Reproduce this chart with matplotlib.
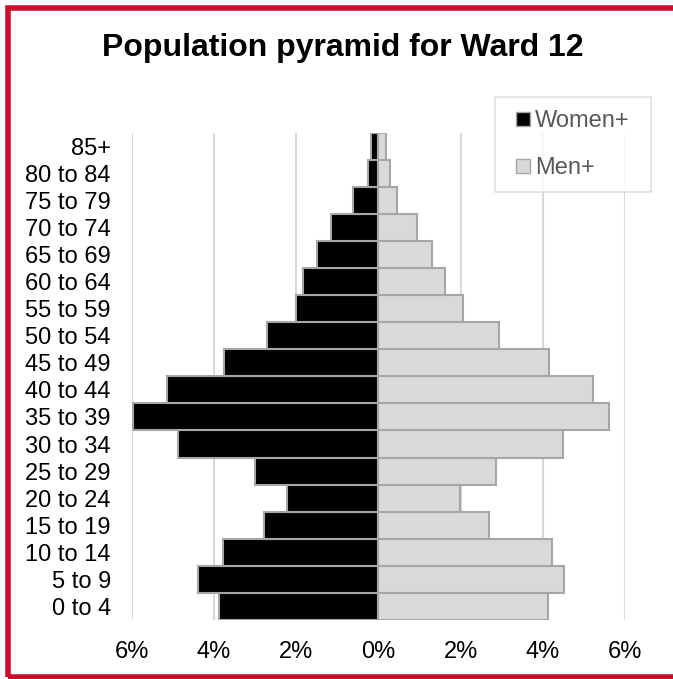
import matplotlib
matplotlib.use('Agg')
import matplotlib.pyplot as plt
from matplotlib.patches import Rectangle
from matplotlib.lines import Line2D
import numpy as np

plt.rcParams['font.family'] = ['Liberation Sans', 'DejaVu Sans']

# Datos del gráfico
grupos = ['0 to 4', '5 to 9', '10 to 14', '15 to 19', '20 to 24', '25 to 29',
          '30 to 34', '35 to 39', '40 to 44', '45 to 49', '50 to 54', '55 to 59',
          '60 to 64', '65 to 69', '70 to 74', '75 to 79', '80 to 84', '85+']
mujeres = [3.88, 4.39, 3.78, 2.78, 2.22, 3.0, 4.88, 5.98, 5.14, 3.76, 2.71, 2.0,
           1.84, 1.49, 1.15, 0.61, 0.25, 0.19]
hombres = [4.13, 4.52, 4.23, 2.69, 1.99, 2.86, 4.49, 5.62, 5.21, 4.15, 2.93, 2.07,
           1.62, 1.31, 0.93, 0.45, 0.29, 0.19]
ticks_x = [-6, -4, -2, 0, 2, 4, 6]
etiquetas_x = ['6%', '4%', '2%', '0%', '2%', '4%', '6%']

fig = plt.figure(figsize=(6.73, 6.79), dpi=100)
ax = fig.add_axes([0.1957, 0.0869, 0.9287 - 0.1957, 0.8046 - 0.0869])

y = np.arange(len(grupos))
ax.barh(y, -np.array(mujeres), height=1.0, color='black', edgecolor='#a6a6a6',
        linewidth=1.5, zorder=3)
ax.barh(y, hombres, height=1.0, color='#d9d9d9', edgecolor='#a6a6a6',
        linewidth=1.5, zorder=3)

ax.set_xlim(-6, 6)
ax.set_ylim(-0.5, 17.5)
ax.set_xticks(ticks_x)
ax.set_xticklabels(etiquetas_x)
ax.set_yticks(y)
ax.set_yticklabels(grupos)
ax.tick_params(axis='both', length=0, labelsize=17, pad=15)
ax.grid(axis='x', color='#d9d9d9', linewidth=1.5, zorder=0)
for s in ax.spines.values():
    s.set_visible(False)

fig.text(0.51, 0.929, 'Population pyramid for Ward 12', ha='center', va='center',
         fontsize=23, fontweight='bold')

# Leyenda
handles = [Line2D([], [], linestyle='none', marker='s', markersize=9.5,
                  markerfacecolor='black', markeredgecolor='#a6a6a6', label='Women+'),
           Line2D([], [], linestyle='none', marker='s', markersize=9.5,
                  markerfacecolor='#d9d9d9', markeredgecolor='#a6a6a6', label='Men+')]
leg = fig.legend(handles=handles, loc='upper left',
                 bbox_to_anchor=(495 / 673, 1 - 187 / 679, 156 / 673, 90 / 679),
                 mode='expand', borderaxespad=0, fontsize=17, frameon=True,
                 fancybox=False, handlelength=1.25, handletextpad=-0.1,
                 labelspacing=1.05, borderpad=0.55, labelcolor='#595959')
leg.get_frame().set_edgecolor('#d9d9d9')
leg.get_frame().set_linewidth(1.2)

# Marco rojo
fig.patches.append(Rectangle((8 / 673, 2 / 679), 1.0, 1 - 10 / 679,
                             transform=fig.transFigure, fill=False,
                             edgecolor='#c8102e', linewidth=4))

fig.savefig('out.png', dpi=100)
